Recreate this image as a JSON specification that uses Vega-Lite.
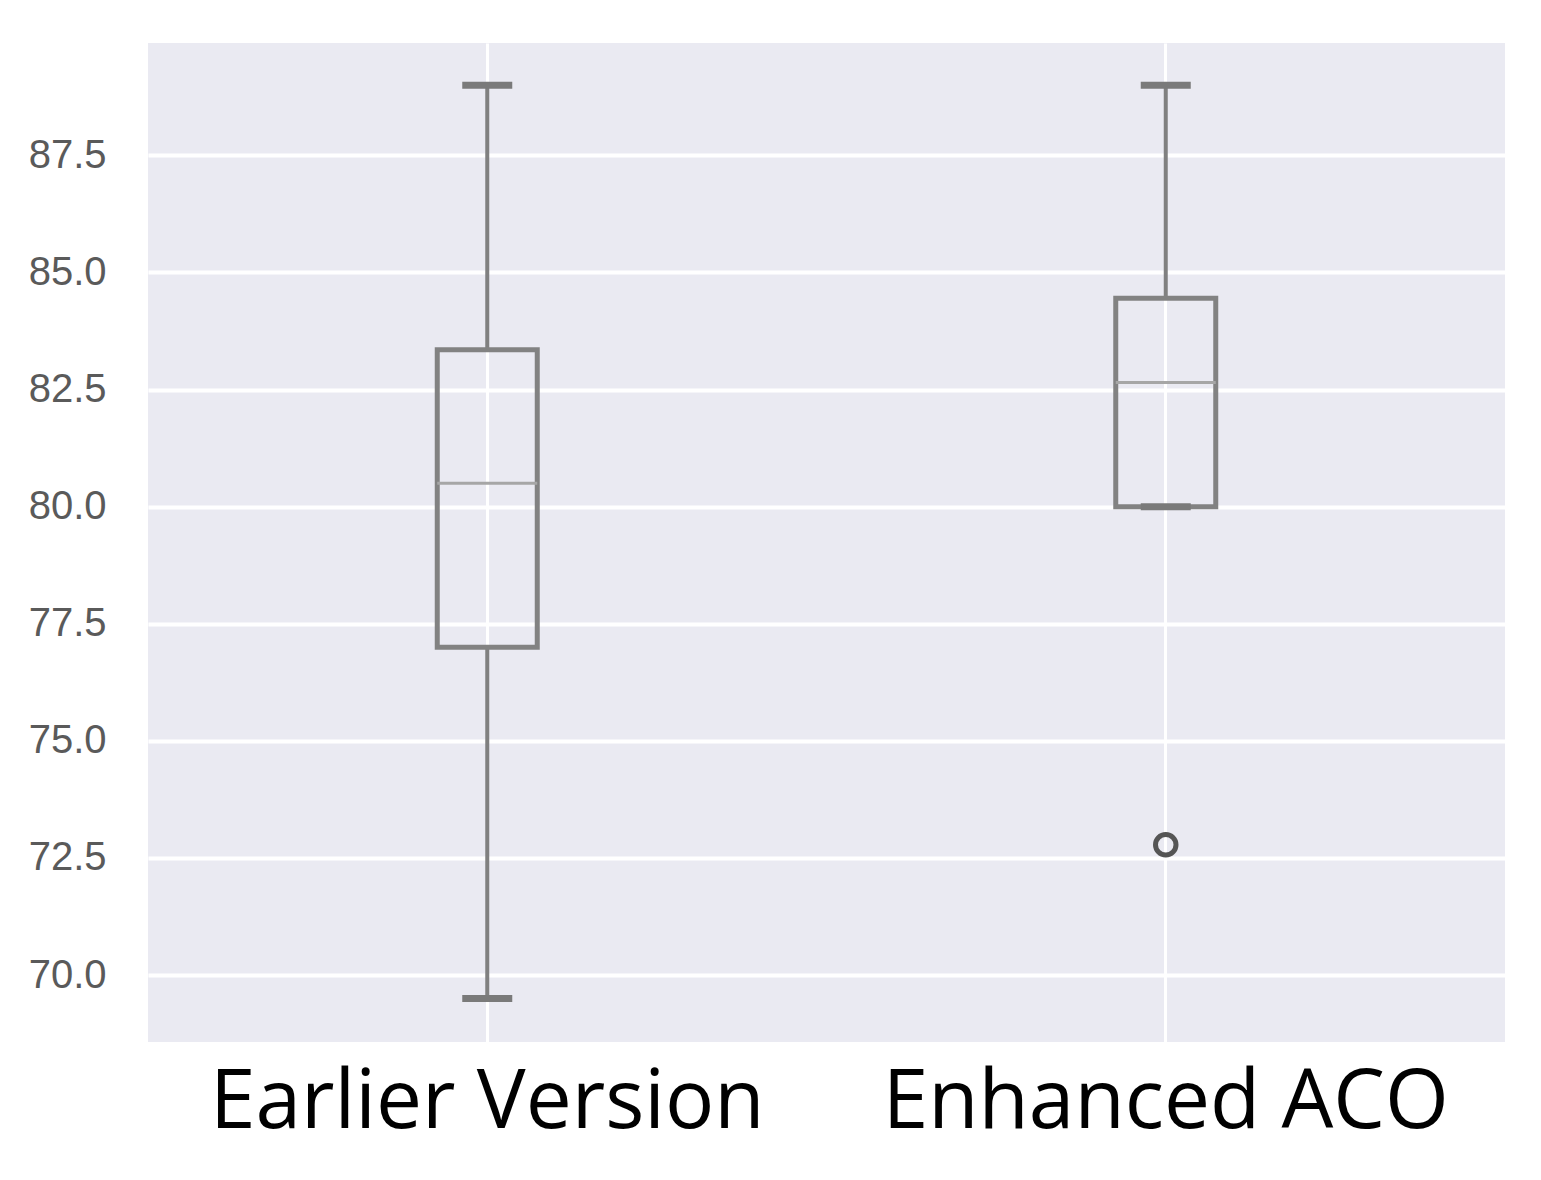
{
  "$schema": "https://vega.github.io/schema/vega-lite/v6.json",
  "autosize": {"type": "none"},
  "width": 1357,
  "height": 999,
  "padding": {"left": 148, "top": 43, "right": 36, "bottom": 138},
  "background": "white",
  "config": {
    "view": {"fill": "#EAEAF2", "stroke": null}
  },
  "datasets": {
    "boxes": [
      {"group": "Earlier Version", "lower": 69.5, "q1": 77.0, "median": 80.5, "q3": 83.35, "upper": 89.0},
      {"group": "Enhanced ACO", "lower": 80.0, "q1": 80.0, "median": 82.65, "q3": 84.45, "upper": 89.0}
    ],
    "outliers": [
      {"group": "Enhanced ACO", "value": 72.78}
    ]
  },
  "encoding": {
    "x": {
      "field": "group",
      "type": "nominal",
      "sort": ["Earlier Version", "Enhanced ACO"],
      "scale": {"domain": ["Earlier Version", "Enhanced ACO"], "paddingInner": 0, "paddingOuter": 0},
      "axis": {
        "title": null,
        "labelAngle": 0,
        "labelFont": "Open Sans",
        "labelFontSize": 82,
        "labelColor": "#000000",
        "labelPadding": 20,
        "labelLimit": 0,
        "labelOverlap": false,
        "ticks": false,
        "domain": false,
        "grid": true,
        "gridColor": "#ffffff",
        "gridWidth": 3,
        "bandPosition": 0.5
      }
    }
  },
  "layer": [
    {
      "data": {"name": "boxes"},
      "mark": {"type": "rule", "stroke": "#808080", "strokeWidth": 4},
      "encoding": {
        "y": {
          "field": "lower",
          "type": "quantitative",
          "scale": {"domain": [68.57, 89.9], "nice": false, "zero": false},
          "axis": {
            "title": null,
            "values": [70, 72.5, 75, 77.5, 80, 82.5, 85, 87.5],
            "format": ".1f",
            "labelFont": "Liberation Sans",
            "labelFontSize": 40,
            "labelColor": "#5a5a5a",
            "labelPadding": 42,
            "ticks": false,
            "domain": false,
            "grid": true,
            "gridColor": "#ffffff",
            "gridWidth": 4
          }
        },
        "y2": {"field": "q1"}
      }
    },
    {
      "data": {"name": "boxes"},
      "mark": {"type": "rule", "stroke": "#808080", "strokeWidth": 4},
      "encoding": {
        "y": {"field": "q3", "type": "quantitative"},
        "y2": {"field": "upper"}
      }
    },
    {
      "data": {"name": "boxes"},
      "mark": {"type": "bar", "size": 100, "fill": null, "fillOpacity": 0, "stroke": "#828282", "strokeWidth": 5},
      "encoding": {
        "y": {"field": "q1", "type": "quantitative"},
        "y2": {"field": "q3"}
      }
    },
    {
      "data": {"name": "boxes"},
      "mark": {"type": "tick", "size": 100, "thickness": 3, "color": "#a6a6a6", "opacity": 1},
      "encoding": {
        "y": {"field": "median", "type": "quantitative"}
      }
    },
    {
      "data": {"name": "boxes"},
      "mark": {"type": "tick", "size": 50, "thickness": 7, "color": "#7a7a7a", "opacity": 1},
      "encoding": {
        "y": {"field": "lower", "type": "quantitative"}
      }
    },
    {
      "data": {"name": "boxes"},
      "mark": {"type": "tick", "size": 50, "thickness": 7, "color": "#7a7a7a", "opacity": 1},
      "encoding": {
        "y": {"field": "upper", "type": "quantitative"}
      }
    },
    {
      "data": {"name": "outliers"},
      "mark": {"type": "point", "shape": "circle", "filled": false, "size": 420, "stroke": "#555555", "strokeWidth": 5, "opacity": 1},
      "encoding": {
        "y": {"field": "value", "type": "quantitative"}
      }
    }
  ]
}
